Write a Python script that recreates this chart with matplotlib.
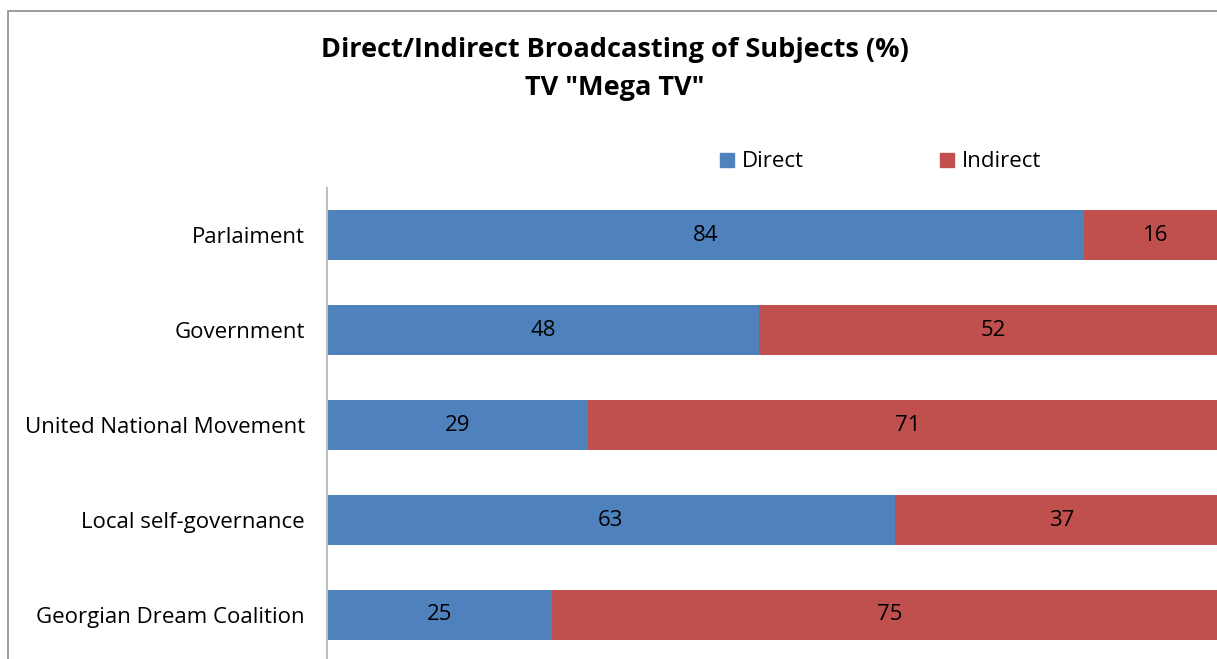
import matplotlib
matplotlib.use("Agg")
import matplotlib.pyplot as plt
from matplotlib.patches import Rectangle
import numpy as np

categories = ["Parlaiment", "Government", "United National Movement",
              "Local self-governance", "Georgian Dream Coalition"]
direct = [84, 48, 29, 63, 25]
indirect = [16, 52, 71, 37, 75]
series_names = ["Direct", "Indirect"]
colors = ["#4F81BD", "#C0504D"]
title_lines = ["Direct/Indirect Broadcasting of Subjects (%)", 'TV "Mega TV"']

W, H = 1217, 659
fig = plt.figure(figsize=(W / 100, H / 100), dpi=100)
plt.rcParams['font.family'] = ['Open Sans', 'DejaVu Sans']

FS = 16

# axes in pixel geometry (extends beyond the image at right/bottom)
ax_left, ax_right = 327, 1228
ax_top, ax_bottom = 187.5, 662.5
ax = fig.add_axes([ax_left / W, 1 - ax_bottom / H,
                   (ax_right - ax_left) / W, (ax_bottom - ax_top) / H])

y = np.arange(len(categories))
bh = 0.53
ax.barh(y, direct, height=bh, color=colors[0], label=series_names[0])
ax.barh(y, indirect, left=direct, height=bh, color=colors[1], label=series_names[1])
ax.set_xlim(0, 100)
ax.set_ylim(len(categories) - 0.5, -0.5)

for i in range(len(categories)):
    ax.text(direct[i] / 2, y[i], str(direct[i]), ha="center", va="center",
            fontsize=FS, color="black")
    ax.text(direct[i] + indirect[i] / 2, y[i], str(indirect[i]), ha="center",
            va="center", fontsize=FS, color="black")

ax.set_yticks(y)
ax.set_yticklabels(categories, fontsize=FS)
ax.tick_params(axis="y", length=0, pad=16)
ax.set_xticks([])
for s in ["top", "right", "bottom"]:
    ax.spines[s].set_visible(False)
ax.spines["left"].set_color("#BFBFBF")
ax.spines["left"].set_linewidth(1.5)

# title
fig.text(615 / W, 1 - 50 / H, title_lines[0], ha="center", va="center",
         fontsize=19.5, fontweight="bold")
fig.text(615 / W, 1 - 88 / H, title_lines[1], ha="center", va="center",
         fontsize=19.5, fontweight="bold")

# legend
for xs, name, c in [(720, series_names[0], colors[0]), (940, series_names[1], colors[1])]:
    fig.patches.append(Rectangle((xs / W, 1 - 167 / H), 14 / W, 14 / H,
                                 transform=fig.transFigure, color=c))
    fig.text((xs + 22) / W, 1 - 162 / H, name, ha="left", va="center", fontsize=FS)

# chart border
fig.patches.append(Rectangle((8 / W, -0.1), 1.2, 1 - 11 / H + 0.1,
                             transform=fig.transFigure, fill=False,
                             edgecolor="#8C8C8C", linewidth=1.2))

fig.savefig("out.png", dpi=100)
